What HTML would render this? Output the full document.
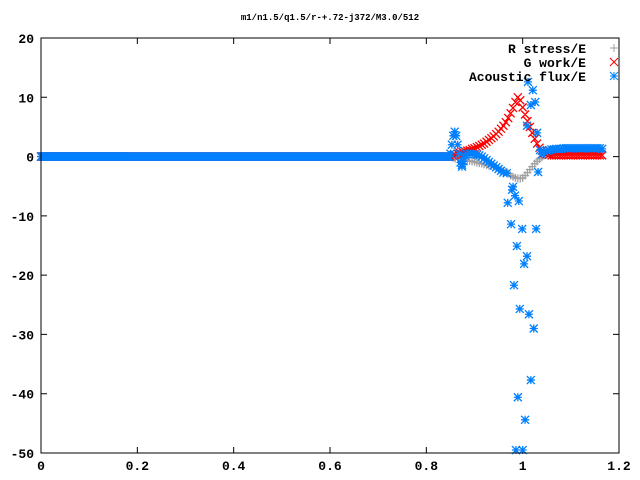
<!DOCTYPE html>
<html><head><meta charset="utf-8"><style>
html,body{margin:0;padding:0;background:#fff;}
svg{display:block;font-family:"Liberation Mono",monospace;font-weight:bold;}
</style></head><body>
<svg id="chart" width="640" height="480" viewBox="0 0 640 480" xmlns="http://www.w3.org/2000/svg">
<rect x="0" y="0" width="640" height="480" fill="#fff"/>
<text x="330" y="20" font-size="9" text-anchor="middle">m1/n1.5/q1.5/r-+.72-j372/M3.0/512</text>
<g id="axes"></g>
<g id="marks"></g>
<rect x="41" y="38" width="578" height="415" fill="none" stroke="#000" stroke-width="1"/>
<g id="legend"></g>
</svg>
<script>
const xTicks = [0, 0.2, 0.4, 0.6, 0.8, 1, 1.2];
const xTickLabels = ["0", "0.2", "0.4", "0.6", "0.8", "1", "1.2"];
const yTicks = [20, 10, 0, -10, -20, -30, -40, -50];
const yTickLabels = ["20", "10", "0", "-10", "-20", "-30", "-40", "-50"];
const seriesNames = ["R stress/E", "G work/E", "Acoustic flux/E"];
const flatEnd = 0.848;
const flatY = 0;
const activeX = [0.85,0.855,0.86,0.865,0.87,0.875,0.88,0.885,0.89,0.895,0.9,0.905,0.91,0.915,0.92,0.925,0.93,0.935,0.94,0.945,0.95,0.955,0.96,0.965,0.97,0.975,0.98,0.985,0.99,0.995,1.0,1.005,1.01,1.015,1.02,1.025,1.03,1.035,1.04,1.045,1.05,1.055,1.06,1.065,1.07,1.075,1.08,1.085,1.09,1.095,1.1,1.105,1.11,1.115,1.12,1.125,1.13,1.135,1.14,1.145,1.15,1.155,1.16,1.165];
const rStress = [0,-0.2,-0.3,-0.4,-0.5,-0.5,-0.6,-0.7,-0.7,-0.8,-0.9,-1.0,-1.1,-1.2,-1.3,-1.4,-1.5,-1.6,-1.7,-1.9,-2.0,-2.2,-2.4,-2.6,-2.9,-3.2,-3.4,-3.6,-3.7,-3.7,-3.6,-3.2,-2.7,-2.2,-1.7,-1.2,-0.8,-0.4,-0.1,0.2,0.4,0.6,0.7,0.8,0.8,0.9,0.9,0.9,1.0,1.0,1.0,1.0,1.0,1.0,1.0,1.0,1.0,1.0,1.0,1.0,1.0,1.0,1.0,1.0];
const gWork = [0,0.2,0.3,0.5,0.6,0.8,0.9,1.0,1.1,1.3,1.4,1.6,1.8,2.0,2.2,2.5,2.8,3.1,3.4,3.8,4.2,4.7,5.2,5.8,6.5,7.3,8.2,9.2,10.0,9.5,8.3,7.1,6.0,5.0,4.0,3.0,2.2,1.5,1.0,0.6,0.4,0.3,0.2,0.2,0.2,0.2,0.2,0.2,0.2,0.2,0.2,0.2,0.2,0.2,0.2,0.2,0.2,0.2,0.2,0.2,0.2,0.2,0.2,0.2];
const fluxX = [0.85,0.853,0.856,0.859,0.862,0.865,0.868,0.871,0.874,0.877,0.88,0.885,0.89,0.895,0.9,0.905,0.91,0.915,0.92,0.925,0.93,0.935,0.94,0.945,0.95,0.955,0.96,1.04,1.045,1.05,1.055,1.06,1.065,1.07,1.075,1.08,1.085,1.09,1.095,1.1,1.105,1.11,1.115,1.12,1.125,1.13,1.135,1.14,1.145,1.15,1.155,1.16,1.165];
const fluxY = [0.5,2.0,3.5,4.2,3.5,2.0,0.5,-1.0,-1.7,-0.8,0.2,0.4,0.5,0.5,0.4,0.3,0.2,0,-0.3,-0.6,-0.9,-1.2,-1.5,-1.8,-2.1,-2.4,-2.7,0.4,0.8,1.0,1.1,1.2,1.2,1.3,1.3,1.3,1.4,1.4,1.4,1.4,1.4,1.4,1.4,1.4,1.4,1.4,1.4,1.4,1.4,1.4,1.4,1.4,1.3];
const fluxScatterX = [0.980,0.978,0.984,0.969,0.992,0.976,0.999,1.028,0.988,1.009,1.003,0.982,0.994,1.013,1.023,1.017,0.990,1.005,0.986,1.000,1.011,1.021,1.026,1.017,1.009,1.030,1.032,1.036,0.967,0.874];
const fluxScatterY = [-5.1,-5.6,-6.6,-7.8,-7.5,-11.4,-12.2,-12.2,-15.1,-16.8,-18.1,-21.7,-25.7,-26.6,-29.0,-37.7,-40.6,-44.4,-49.5,-49.5,12.6,11.2,9.2,8.7,5.2,4.0,-2.6,1.1,-2.8,-1.4];

const X0 = 41, X1 = 619, Y0 = 453, Y1 = 38;
const xMin = 0, xMax = 1.2, yMin = -50, yMax = 20;
function sx(v){ return X0 + (v - xMin) / (xMax - xMin) * (X1 - X0); }
function sy(v){ return Y0 - (v - yMin) / (yMax - yMin) * (Y0 - Y1); }
const NS = "http://www.w3.org/2000/svg";
const axes = document.getElementById('axes');
const marks = document.getElementById('marks');
const legend = document.getElementById('legend');
function mk(tag, attrs, parent){ const e = document.createElementNS(NS, tag); for (const k in attrs) e.setAttribute(k, attrs[k]); parent.appendChild(e); return e; }

xTicks.forEach((t, i) => {
  const g = mk('g', {}, axes);
  
  
  const x = sx(t);
  mk('path', {d:`M${x},${Y0}v-6M${x},${Y1}v6`, stroke:'#000', 'stroke-width':1}, g);
  const tx = mk('text', {x:x, y:Y0+17, 'font-size':13, 'text-anchor':'middle'}, g);
  tx.textContent = xTickLabels[i];
});
yTicks.forEach((t, i) => {
  const g = mk('g', {}, axes);
  
  
  const y = sy(t);
  mk('path', {d:`M${X0},${y}h6M${X1},${y}h-6`, stroke:'#000', 'stroke-width':1}, g);
  const tx = mk('text', {x:X0-7, y:y+5, 'font-size':13, 'text-anchor':'end'}, g);
  tx.textContent = yTickLabels[i];
});

const S = 4;
function plusPath(x, y){ return `M${x-S},${y}h${2*S}M${x},${y-S}v${2*S}`; }
function crossPath(x, y){ return `M${x-S},${y-S}l${2*S},${2*S}M${x-S},${y+S}l${2*S},${-2*S}`; }
function starPath(x, y){ return plusPath(x, y) + crossPath(x, y); }

function drawSeries(name, xs, ys, fn, color){
  let d = '';
  for (let i = 0; i < xs.length; i++) d += fn(sx(xs[i]), sy(ys[i]));
  const p = mk('path', {d:d, stroke:color, 'stroke-width':1.3, fill:'none'}, marks);
  
  
}
const flatX = [], flatVals = [];
for (let v = 0; v <= flatEnd; v += 0.001) { flatX.push(v); flatVals.push(flatY); }

drawSeries('r-stress-flat', flatX, flatVals, plusPath, '#a0a0a0');
drawSeries('r-stress-series', activeX, rStress, plusPath, '#a0a0a0');
drawSeries('g-work-flat', flatX, flatVals, crossPath, '#ff0000');
drawSeries('g-work-series', activeX, gWork, crossPath, '#ff0000');
drawSeries('acoustic-flux-flat', flatX, flatVals, starPath, '#0080ff');
drawSeries('acoustic-flux-series', fluxX, fluxY, starPath, '#0080ff');
drawSeries('acoustic-flux-scatter', fluxScatterX, fluxScatterY, starPath, '#0080ff');

const legendFns = [plusPath, crossPath, starPath];
const legendColors = ['#a0a0a0', '#ff0000', '#0080ff'];
seriesNames.forEach((n, i) => {
  const g = mk('g', {}, legend);
  
  
  const y = 48 + i * 14;
  const t = mk('text', {x:586, y:y+5, 'font-size':13, 'text-anchor':'end'}, g);
  t.textContent = n;
  mk('path', {d:legendFns[i](614, y), stroke:legendColors[i], 'stroke-width':1, fill:'none'}, g);
});
</script>
</body></html>
